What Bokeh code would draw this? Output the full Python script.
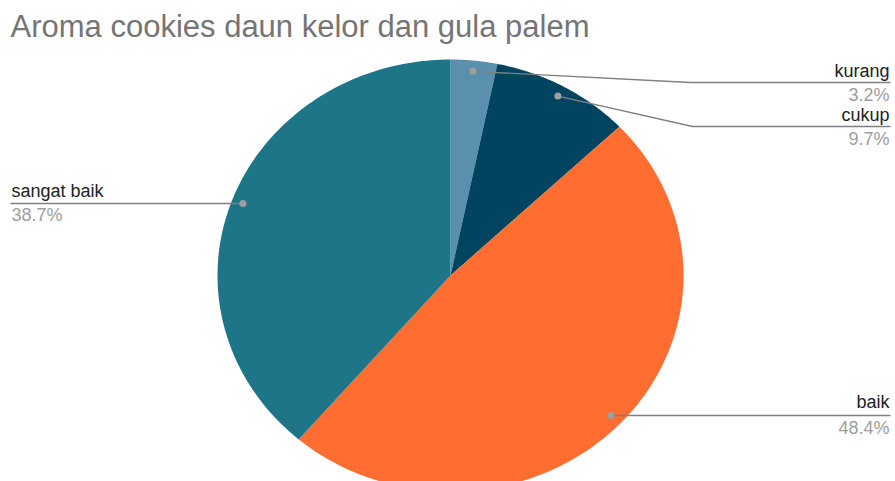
import numpy as np
from bokeh.plotting import figure
from bokeh.models import Range1d
from bokeh.core.properties import value
from bokeh.embed import file_html
from bokeh.resources import INLINE

# ---- data ----
title_text = "Aroma cookies daun kelor dan gula palem"
categories = ["kurang", "cukup", "baik", "sangat baik"]
counts = [1, 3, 15, 12]
colors = ["#5a8fad", "#00445f", "#ff6d31", "#1e7587"]

# ---- layout helpers (page pixel -> data) ----
CX, CY, RX, RY = 450.0, 275.0, 233.0, 216.0
W, H = 895, 481
LAB = 18   # label font size, px
TIT = 31   # title font size, px


def X(px):
    return (px - CX) / RX


def Y(py):
    return (CY - py) / RY


def YB(py, size):
    # alphabetic baseline correction observed in the svg renderer
    return Y(py - 0.28 * size)


p = figure(width=W, height=H, output_backend="svg", toolbar_location=None,
           x_range=Range1d(X(0), X(W)), y_range=Range1d(Y(H), Y(0)),
           min_border=0, outline_line_color=None)
p.axis.visible = False
p.grid.visible = False
p.background_fill_color = "white"

vals = np.array(counts, dtype=float)
frac = vals / vals.sum()
cum = np.concatenate([[0.0], np.cumsum(frac)])
pcts = ["%.1f%%" % (100 * f) for f in frac]

xs, ys = [], []
for i in range(len(vals)):
    t = np.linspace(cum[i], cum[i + 1], 120) * 2 * np.pi
    xs.append(np.concatenate([[0.0], np.sin(t), [0.0]]))
    ys.append(np.concatenate([[0.0], np.cos(t), [0.0]]))
p.patches(xs, ys, fill_color=colors, line_color=None)

# dots at mid-angle
mid = (cum[:-1] + cum[1:]) / 2 * 2 * np.pi
dr = 0.95
dx = dr * np.sin(mid)
dy = dr * np.cos(mid)

# leader lines (layout positions)
elbow = {"kurang": (690, 82), "cukup": (692, 126)}
line_y = {"kurang": 82, "cukup": 126, "sangat baik": 203, "baik": 415}
end_x = {"kurang": 890, "cukup": 890, "sangat baik": 10, "baik": 890}
name_base = {"kurang": 76, "cukup": 120, "sangat baik": 196, "baik": 407}
pct_base = {"kurang": 100, "cukup": 144, "sangat baik": 220, "baik": 433}

for i, c in enumerate(categories):
    if c in elbow:
        ex, ey = elbow[c]
        lx = [dx[i], X(ex), X(end_x[c])]
        ly = [dy[i], Y(ey), Y(ey)]
    else:
        lx = [dx[i], X(end_x[c])]
        ly = [Y(line_y[c]), Y(line_y[c])]
        dy[i] = Y(line_y[c])
    p.line(lx, ly, line_color="#808080", line_width=1.3)

p.scatter(dx, dy, size=7, fill_color="#9e9e9e", line_color=None)

for i, c in enumerate(categories):
    align = "left" if end_x[c] < CX else "right"
    tx = X(end_x[c] + (1 if align == "left" else -1))
    p.text([tx], [YB(name_base[c], LAB)], text=[c], text_align=align,
           text_baseline="alphabetic", text_font=value("Liberation Sans"),
           text_font_size=value("%dpx" % LAB), text_color="#222222")
    p.text([tx], [YB(pct_base[c], LAB)], text=[pcts[i]], text_align=align,
           text_baseline="alphabetic", text_font=value("Liberation Sans"),
           text_font_size=value("%dpx" % LAB), text_color="#9e9e9e")

p.text([X(10)], [YB(35, TIT)], text=[title_text], text_align="left",
       text_baseline="alphabetic", text_font=value("Liberation Sans"),
       text_font_size=value("%dpx" % TIT), text_color="#757575")

open("out.html", "w").write(file_html(p, INLINE))
